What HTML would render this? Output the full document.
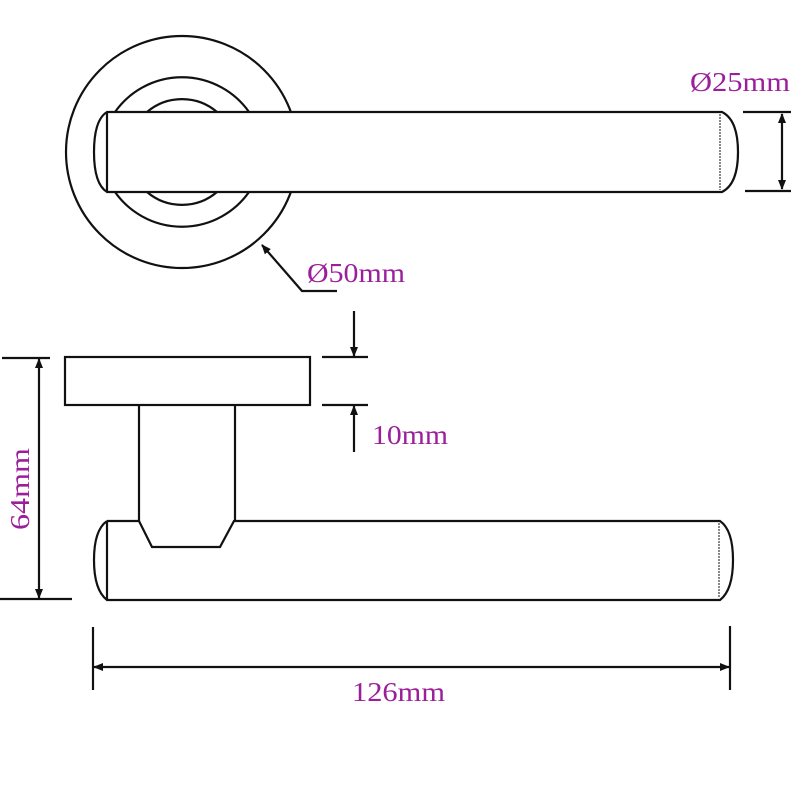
<!DOCTYPE html>
<html><head><meta charset="utf-8"><style>
html,body{margin:0;padding:0;background:#fff;}
svg{display:block;}
text{font-family:"Liberation Serif",serif;fill:#9b1f9b;font-size:27px;}
</style></head><body>
<svg width="800" height="800" viewBox="0 0 800 800" xmlns="http://www.w3.org/2000/svg">
<defs>
<marker id="a" markerWidth="10" markerHeight="8" refX="9" refY="4" orient="auto-start-reverse" markerUnits="userSpaceOnUse">
<path d="M0,0 L10,4 L0,8 Z" fill="#111"/></marker>
</defs>
<g fill="none" stroke="#111" stroke-width="2.2">
<circle cx="182" cy="152" r="116"/>
<path d="M115,112 A82,82 0 0 1 249,112 M115,192 A82,82 0 0 0 249,192"/>
<path d="M147,112 A54,54 0 0 1 217,112 M147,192 A54,54 0 0 0 217,192"/>
<path d="M107,112 L722,112 Q738,120 738,152 Q738,184 722,192 L107,192 Q94,184 94,152 Q94,120 107,112 Z" fill="#fff"/>
<line x1="107" y1="112" x2="107" y2="192"/>
<line x1="720" y1="114" x2="720" y2="190" stroke-width="1" stroke-dasharray="2,1"/>
<line x1="743" y1="112" x2="791" y2="112"/>
<line x1="745" y1="191" x2="791" y2="191"/>
<line x1="782" y1="114" x2="782" y2="189" marker-start="url(#a)" marker-end="url(#a)"/>
<polyline points="337,291 302,291 262,245" marker-end="url(#a)"/>
<rect x="65" y="357" width="245" height="48"/>
<line x1="139" y1="405" x2="139" y2="521"/>
<line x1="235" y1="405" x2="235" y2="521"/>
<path d="M107,521 L139,521 L152,547 L220,547 L234,521 L720,521 Q733,530 733,560 Q733,590 720,600 L107,600 Q94,590 94,560 Q94,530 107,521"/>
<line x1="107" y1="521" x2="107" y2="600"/>
<line x1="719" y1="523" x2="719" y2="598" stroke-width="1" stroke-dasharray="2,1"/>
<line x1="322" y1="357" x2="368" y2="357"/>
<line x1="322" y1="405" x2="368" y2="405"/>
<line x1="354" y1="311" x2="354" y2="356" marker-end="url(#a)"/>
<line x1="354" y1="452" x2="354" y2="406" marker-end="url(#a)"/>
<line x1="2" y1="358" x2="50" y2="358"/>
<line x1="0" y1="599" x2="72" y2="599"/>
<line x1="39" y1="359" x2="39" y2="598" marker-start="url(#a)" marker-end="url(#a)"/>
<line x1="93" y1="627" x2="93" y2="690"/>
<line x1="730" y1="626" x2="730" y2="690"/>
<line x1="94" y1="667" x2="729" y2="667" marker-start="url(#a)" marker-end="url(#a)"/>
</g>
<text x="690" y="91" textLength="100" lengthAdjust="spacingAndGlyphs">Ø25mm</text>
<text x="307" y="282" textLength="98" lengthAdjust="spacingAndGlyphs">Ø50mm</text>
<text x="372" y="444" textLength="76" lengthAdjust="spacingAndGlyphs">10mm</text>
<text x="352" y="701" textLength="93" lengthAdjust="spacingAndGlyphs">126mm</text>
<text transform="translate(29,530) rotate(-90)" textLength="82" lengthAdjust="spacingAndGlyphs">64mm</text>
</svg>
</body></html>
